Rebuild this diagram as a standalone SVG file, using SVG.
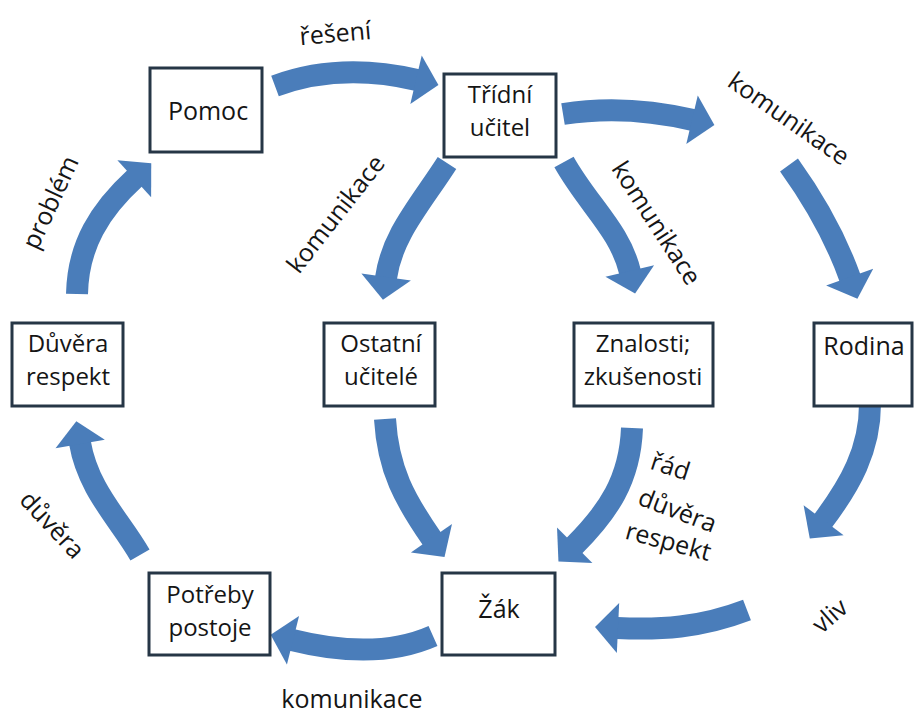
<svg xmlns="http://www.w3.org/2000/svg" width="916" height="715" viewBox="0 0 916 715">
<style>
.box{fill:#fff;stroke:#263646;stroke-width:3}
.t{font-family:"Open Sans","Liberation Sans",sans-serif;font-size:25px;fill:#151515;text-anchor:middle}
.b{font-size:24px}
.arr{fill:none;stroke:#4a7dba;stroke-width:22;stroke-linecap:butt}
</style>
<defs>
<marker id="head" markerUnits="userSpaceOnUse" markerWidth="60" markerHeight="60" viewBox="-2 -30 32 60" refX="0" refY="0" orient="auto" overflow="visible">
<path d="M-1,-25 L22,0 L-1,25 Z" fill="#4a7dba"/>
</marker>
</defs>
<rect width="916" height="715" fill="#fff"/>
<g id="connectors">
<path class="arr" marker-end="url(#head)" d="M275,86 Q340,62 417,80"/>
<path class="arr" marker-end="url(#head)" d="M563,114 Q625,104 693,120"/>
<path class="arr" marker-end="url(#head)" d="M789,165 Q830,222 850,278"/>
<path class="arr" marker-end="url(#head)" d="M447,163 C420,205 392,235 386,278"/>
<path class="arr" marker-end="url(#head)" d="M564,162 C588,205 620,230 630,272"/>
<path class="arr" marker-end="url(#head)" d="M385,419 C388,470 405,500 432,539"/>
<path class="arr" marker-end="url(#head)" d="M632,428 C630,480 608,512 574,546"/>
<path class="arr" marker-end="url(#head)" d="M870,404 C870,450 850,485 823,521"/>
<path class="arr" marker-end="url(#head)" d="M747,610 C700,628 660,630 617,628"/>
<path class="arr" marker-end="url(#head)" d="M433,636 C390,655 340,652 292,640"/>
<path class="arr" marker-end="url(#head)" d="M140,555 C120,520 88,490 80,443"/>
<path class="arr" marker-end="url(#head)" d="M77,294 C78,245 100,210 135,178"/>
</g>
<g id="labels">
<text class="t" transform="translate(336,42) rotate(-5)">řešení</text>
<text class="t" transform="translate(788,120) rotate(35)" y="7">komunikace</text>
<text class="t" transform="translate(337,215) rotate(-52)" y="7">komunikace</text>
<text class="t" transform="translate(655,224) rotate(57)" y="7">komunikace</text>
<text class="t" transform="translate(52,203) rotate(-65)" y="7">problém</text>
<text class="t" transform="translate(51,526) rotate(47)" y="7">důvěra</text>
<text class="t" transform="translate(831,617) rotate(-41)" y="7">vliv</text>
<text class="t" transform="translate(670,468) rotate(18)" y="7">řád</text>
<text class="t" transform="translate(677,512) rotate(21)" y="7">důvěra</text>
<text class="t" transform="translate(668,543) rotate(15)" y="7">respekt</text>
<text class="t" x="352" y="708">komunikace</text>
</g>
<g id="pomoc"><rect class="box" x="150" y="68" width="112" height="84"/><text class="t" x="208" y="120">Pomoc</text></g>
<g id="tridni-ucitel"><rect class="box" x="444" y="74" width="112" height="83"/><text class="t b" x="500" y="103">Třídní</text><text class="t b" x="500" y="136">učitel</text></g>
<g id="duvera-respekt"><rect class="box" x="12" y="323" width="111" height="83"/><text class="t b" x="68" y="352">Důvěra</text><text class="t b" x="68" y="385">respekt</text></g>
<g id="ostatni-ucitele"><rect class="box" x="324" y="323" width="111" height="83"/><text class="t b" x="381" y="352">Ostatní</text><text class="t b" x="381" y="385">učitelé</text></g>
<g id="znalosti"><rect class="box" x="574" y="323" width="139" height="83"/><text class="t b" x="643" y="352">Znalosti;</text><text class="t b" x="643" y="385">zkušenosti</text></g>
<g id="rodina"><rect class="box" x="814" y="323" width="98" height="83"/><text class="t" x="864" y="355">Rodina</text></g>
<g id="potreby"><rect class="box" x="149" y="573" width="121" height="82"/><text class="t b" x="210" y="603">Potřeby</text><text class="t b" x="210" y="636">postoje</text></g>
<g id="zak"><rect class="box" x="442" y="573" width="113" height="82"/><text class="t" x="499" y="618">Žák</text></g>
</svg>
